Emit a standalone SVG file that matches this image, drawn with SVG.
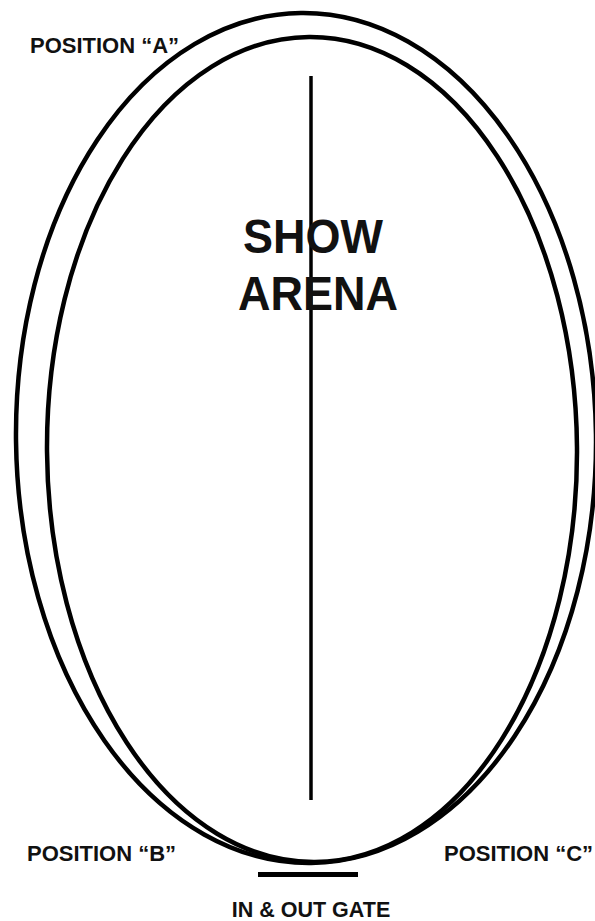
<svg xmlns="http://www.w3.org/2000/svg" width="595" height="921" viewBox="0 0 595 921">
<style>
.track{fill:none;stroke:#000;stroke-width:4.5}
.bar{stroke:#000;fill:none}
.lbl{font-family:"Liberation Sans",Arial,sans-serif;font-weight:bold;fill:#111}
</style>
<rect width="595" height="921" fill="#fff"/>
<g id="arena">
<ellipse class="track" cx="306" cy="438" rx="290" ry="425" transform="rotate(-0.7 306 438)"/>
<ellipse class="track" cx="312" cy="449.5" rx="265" ry="412.5" transform="rotate(-0.4 312 449.5)"/>
<line class="bar" x1="311" y1="76" x2="311" y2="800" stroke-width="3.5"/>
<text class="lbl" x="243" y="253" font-size="45" transform="translate(0 -20) scale(1 1.08)">SHOW</text>
<text class="lbl" x="238" y="310" font-size="45" transform="translate(0 -24.8) scale(1 1.08)">ARENA</text>
</g>
<g id="gate">
<line class="bar" x1="258" y1="874.5" x2="358" y2="874.5" stroke-width="5"/>
<text class="lbl" x="311" y="917" font-size="21.5" text-anchor="middle">IN &amp; OUT GATE</text>
</g>
<g id="posA"><text class="lbl" x="30" y="53" font-size="22">POSITION “A”</text></g>
<g id="posB"><text class="lbl" x="27" y="861" font-size="22">POSITION “B”</text></g>
<g id="posC"><text class="lbl" x="444" y="861" font-size="22">POSITION “C”</text></g>
<g id="connectors"></g>
</svg>
